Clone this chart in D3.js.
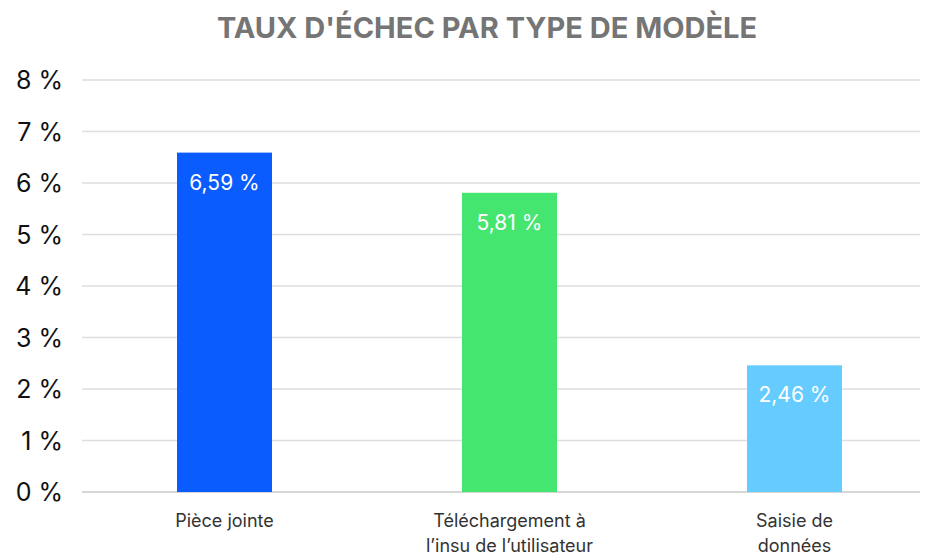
<!DOCTYPE html>
<html><head><meta charset="utf-8">
<script src="https://cdn.jsdelivr.net/npm/d3@7"></script>
<style>body{margin:0;background:#fff;font-family:Inter,Roboto,sans-serif}</style>
</head><body>
<svg id="c" width="946" height="559"></svg>
<script>
const categories = [["Pièce jointe"], ["Téléchargement à", "l’insu de l’utilisateur"], ["Saisie de", "données"]];
const values = [6.59, 5.81, 2.46];
const colors = ["#0a5cff", "#45e66f", "#66ccff"];
const yTicks = [0,1,2,3,4,5,6,7,8];

const svg = d3.select("#c");
const x = d3.scaleBand().domain(d3.range(categories.length)).range([82, 937]);
const y = d3.scaleLinear().domain([0, 8]).range([492, 80]);
const fmt = v => v.toFixed(2).replace(".", ",") + " %";

svg.append("text").attr("x", 487).attr("y", 38).attr("text-anchor", "middle")
  .attr("font-size", 29).attr("font-weight", 700).attr("fill", "#757575")
  .text("TAUX D'ÉCHEC PAR TYPE DE MODÈLE");

const g = svg.append("g");
yTicks.forEach(t => {
  g.append("line").attr("x1", 82).attr("x2", 920).attr("y1", y(t)).attr("y2", y(t))
    .attr("stroke", t === 0 ? "#c8c8c8" : "#dedede").attr("stroke-width", 1.5);
  g.append("text").attr("x", 63).attr("y", y(t)).attr("dy", "0.36em")
    .attr("text-anchor", "end").attr("font-size", 25).attr("fill", "#111").text(t + " %");
});

const bw = x.bandwidth() / 3;
values.forEach((v, i) => {
  const cx = x(i) + x.bandwidth() / 2;
  g.append("rect").attr("x", cx - bw / 2).attr("width", bw)
    .attr("y", y(v)).attr("height", y(0) - y(v)).attr("fill", colors[i]);
  g.append("text").attr("x", cx).attr("y", y(v) + 37).attr("text-anchor", "middle")
    .attr("font-size", 21).attr("fill", "#fff").text(fmt(v));
  categories[i].forEach((l, j) => {
    g.append("text").attr("x", cx).attr("y", 527 + j * 25).attr("text-anchor", "middle")
      .attr("font-size", 18).attr("fill", "#333").text(l);
  });
});
</script>
</body></html>
